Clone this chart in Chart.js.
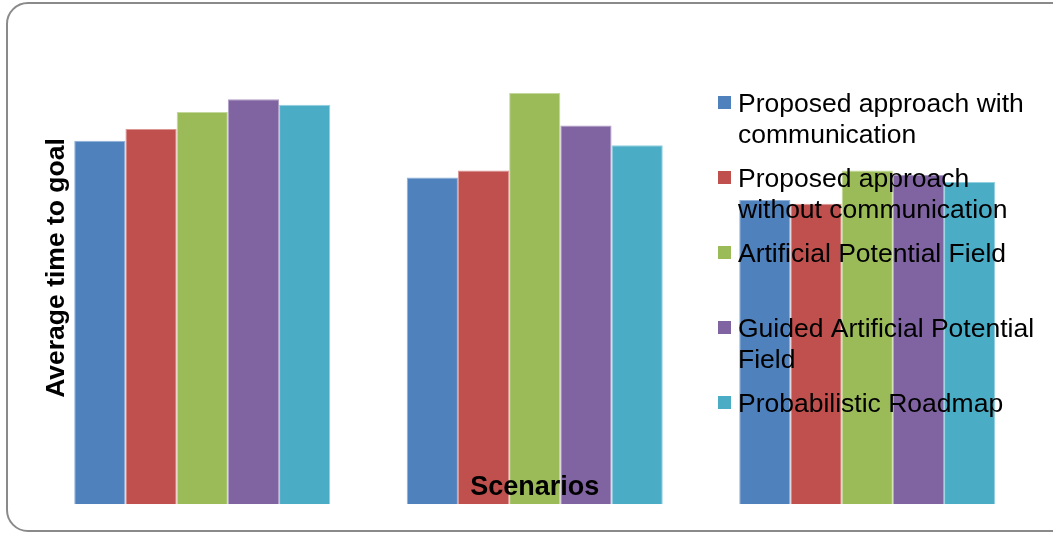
<!DOCTYPE html>
<html>
<head>
<meta charset="utf-8">
<script src="https://cdn.jsdelivr.net/npm/chart.js@4/dist/chart.umd.min.js"></script>
<style>
  html, body { margin: 0; padding: 0; background: #fff; overflow: hidden; }
  #wrap { position: relative; width: 1053px; height: 533px; overflow: hidden; }
  #frame {
    position: absolute; left: 6px; top: 2px; width: 1070px; height: 526px;
    border: 2px solid #8a8a8a; border-radius: 22px; box-sizing: content-box;
  }
  canvas { position: absolute; left: 0; top: 0; }
</style>
</head>
<body>
<div id="wrap">
  <div id="frame"></div>
  <canvas id="timeChart" width="1053" height="533"></canvas>
</div>
<script>
const categories = ['Scenario 1', 'Scenario 2', 'Scenario 3'];

const seriesNames = [
    ['Proposed approach with', 'communication'],
    ['Proposed approach', 'without communication'],
    ['Artificial Potential Field'],
    ['Guided Artificial Potential', 'Field'],
    ['Probabilistic Roadmap']
];

// valores estimados desde la imagen (sin eje numérico visible)
const withComm = [40.4, 36.3, 33.8];
const withoutComm = [41.7, 37.1, 33.4];
const apf = [43.6, 45.7, 37.1];
const guidedApf = [45.0, 42.1, 36.6];
const prm = [44.4, 39.9, 35.8];

const colors = ['#4F81BD', '#C0504D', '#9BBB59', '#8064A2', '#4BACC6'];
const edgeColors = ['#8fb0d8', '#dc9593', '#c4d89d', '#b09dc6', '#93d0e0'];

const yTitle = 'Average time to goal';
const xTitle = 'Scenarios';

const seriesValues = [withComm, withoutComm, apf, guidedApf, prm];

// títulos y leyenda dibujados encima de las barras, como en el original
const overlayPlugin = {
    id: 'overlay',
    afterDatasetsDraw(chart) {
        const c = chart.ctx;
        const area = chart.chartArea;
        c.save();
        c.fillStyle = '#000';
        c.font = 'bold 27px "Liberation Sans", Arial, sans-serif';
        c.textAlign = 'center';
        c.textBaseline = 'alphabetic';
        c.fillText(xTitle, (area.left + area.right) / 2, 495);

        c.save();
        c.translate(57, 268);
        c.rotate(-Math.PI / 2);
        c.textBaseline = 'middle';
        c.font = 'bold 26.5px "Liberation Sans", Arial, sans-serif';
        c.fillText(yTitle, 0, 0);
        c.restore();

        c.font = '26.5px "Liberation Sans", Arial, sans-serif';
        c.textAlign = 'left';
        c.textBaseline = 'alphabetic';
        chart.data.datasets.forEach((ds, i) => {
            const base = 112 + i * 75;
            c.fillStyle = colors[i];
            c.fillRect(718, base - 16, 13, 13);
            c.fillStyle = '#000';
            seriesNames[i].forEach((line, j) => {
                c.fillText(line, 738, base + j * 31);
            });
        });
        c.restore();
    }
};

const ctx = document.getElementById('timeChart').getContext('2d');

let timeChart = new Chart(ctx, {
    type: 'bar',
    data: {
        labels: categories,
        datasets: seriesValues.map((vals, i) => ({
            label: seriesNames[i].join(' '),
            data: vals,
            backgroundColor: colors[i],
            borderColor: edgeColors[i],
            borderWidth: 1,
            barPercentage: 1.0,
            categoryPercentage: 0.77
        }))
    },
    options: {
        responsive: false,
        animation: false,
        layout: {
            padding: { left: 36, right: 19.5, top: 54.3, bottom: 28.7 }
        },
        plugins: {
            legend: { display: false },
            tooltip: { enabled: false }
        },
        scales: {
            x: { display: false },
            y: { display: false, beginAtZero: true, min: 0, max: 50 }
        }
    },
    plugins: [overlayPlugin]
});
</script>
</body>
</html>
